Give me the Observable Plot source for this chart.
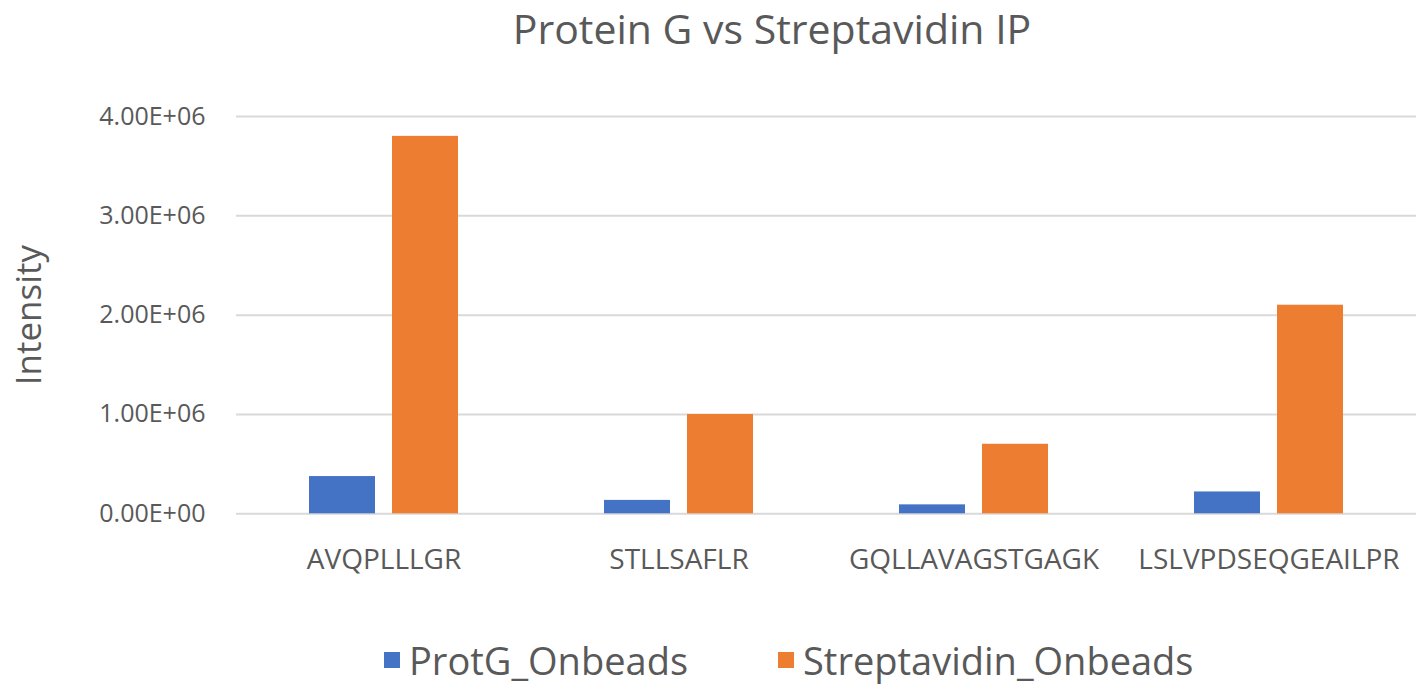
<!DOCTYPE html>
<html>
<head>
<meta charset="utf-8">
<script src="https://cdn.jsdelivr.net/npm/d3@7"></script>
<script src="https://cdn.jsdelivr.net/npm/@observablehq/plot@0.6"></script>
<style>
  html, body { margin: 0; padding: 0; background: #fff; }
  #wrap { position: relative; width: 1424px; height: 684px; font-family: "Open Sans", sans-serif; color: #595959; }
  #title { position: absolute; left: 772px; top: 0px; transform: translateX(-50%); font-size: 41px; line-height: normal; white-space: nowrap; }
  #chart { position: absolute; left: 0; top: 0; }
  .leg { position: absolute; top: 660px; transform: translateY(-50%); display: flex; align-items: center; font-size: 38px; line-height: normal; white-space: nowrap; }
  .sw { width: 16px; height: 16px; margin-right: 9px; flex: none; }
</style>
</head>
<body>
<div id="wrap">
  <div id="chart"></div>
  <div id="title"></div>
</div>
<script>
const chartTitle = "Protein G vs Streptavidin IP";
const yLabel = "Intensity";
const categories = ["AVQPLLLGR", "STLLSAFLR", "GQLLAVAGSTGAGK", "LSLVPDSEQGEAILPR"];
const series = ["ProtG_Onbeads", "Streptavidin_Onbeads"];
const protG = [375000, 135000, 90000, 220000];
const streptavidin = [3800000, 1000000, 700000, 2100000];
const colors = ["#4472C4", "#ED7D31"];
const yTicks = [0, 1000000, 2000000, 3000000, 4000000];

const data = [];
categories.forEach((c, i) => {
  data.push({category: c, series: series[0], value: protG[i]});
  data.push({category: c, series: series[1], value: streptavidin[i]});
});

function sci(d) {
  if (d === 0) return "0.00E+00";
  const e = Math.floor(Math.log10(Math.abs(d)));
  const m = d / Math.pow(10, e);
  return m.toFixed(2) + "E" + (e >= 0 ? "+" : "-") + String(Math.abs(e)).padStart(2, "0");
}

const W = 1424, H = 600;
const plot = Plot.plot({
  width: W,
  height: H,
  marginLeft: 234,
  marginRight: 7,
  marginTop: 116,
  marginBottom: H - 513.3,
  style: {fontFamily: "'Open Sans', sans-serif", color: "#595959", background: "transparent"},
  fx: {domain: categories, padding: 0, label: null},
  x: {domain: series, paddingInner: 0.202, paddingOuter: 0.865, axis: null},
  y: {domain: [0, 4000000], label: null},
  color: {domain: series, range: colors},
  marks: [
    Plot.gridY(yTicks, {stroke: "#d9d9d9", strokeOpacity: 1, strokeWidth: 2}),
    Plot.axisY(yTicks, {tickSize: 0, tickPadding: 31, tickFormat: sci, fontSize: 25, label: null}),
    Plot.axisY([], {tickSize: 0, label: yLabel, labelAnchor: "center", labelOffset: 220, labelArrow: "none", fontSize: 35}),
    Plot.axisFx({anchor: "bottom", tickSize: 0, tickPadding: 35, fontSize: 28, label: null}),
    Plot.barY(data, {fx: "category", x: "series", y: "value", fill: "series"})
  ]
});
plot.style.display = "block";
document.getElementById("chart").appendChild(plot);
document.getElementById("title").textContent = chartTitle;

const legendLeft = [384, 778];
const wrap = document.getElementById("wrap");
series.forEach((s, i) => {
  const item = document.createElement("div");
  item.className = "leg";
  item.style.left = legendLeft[i] + "px";
  const sw = document.createElement("span");
  sw.className = "sw";
  sw.style.background = colors[i];
  const t = document.createElement("span");
  t.textContent = s;
  item.appendChild(sw);
  item.appendChild(t);
  wrap.appendChild(item);
});
</script>
</body>
</html>
